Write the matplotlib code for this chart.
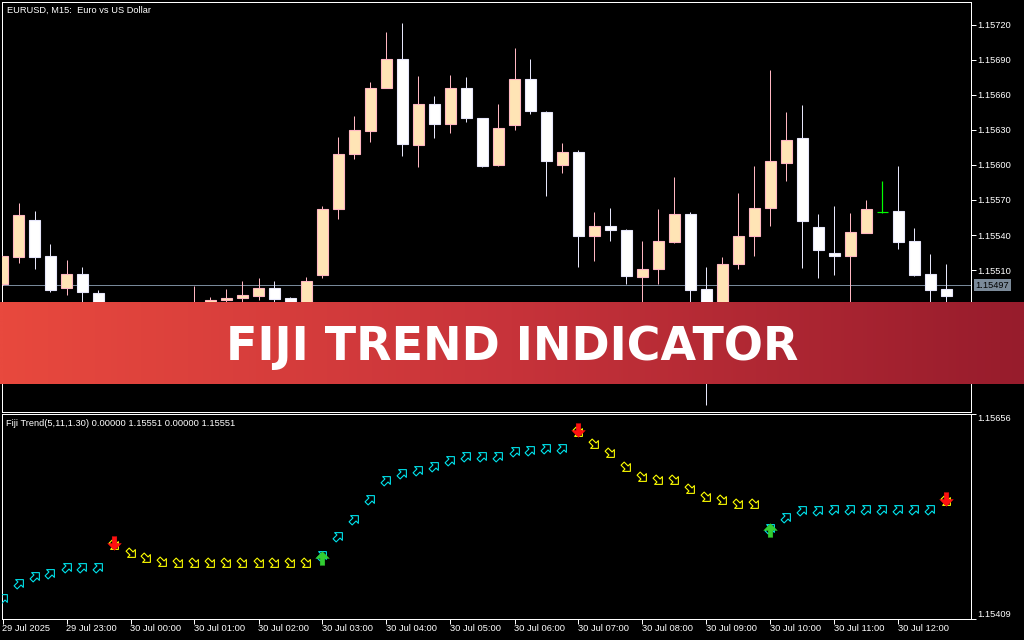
import matplotlib
matplotlib.use("Agg")
import matplotlib.pyplot as plt
import numpy as np
from matplotlib.path import Path
from matplotlib.transforms import offset_copy, blended_transform_factory
from matplotlib.colors import LinearSegmentedColormap

# ---------------- data ----------------
chart_title = "EURUSD, M15:  Euro vs US Dollar"
indicator_label = "Fiji Trend(5,11,1.30) 0.00000 1.15551 0.00000 1.15551"
banner_text = "FIJI TREND INDICATOR"

time_labels = ["29 Jul 2025", "29 Jul 23:00", "30 Jul 00:00", "30 Jul 01:00", "30 Jul 02:00",
               "30 Jul 03:00", "30 Jul 04:00", "30 Jul 05:00", "30 Jul 06:00", "30 Jul 07:00",
               "30 Jul 08:00", "30 Jul 09:00", "30 Jul 10:00", "30 Jul 11:00", "30 Jul 12:00"]
time_label_bars = [0, 4, 8, 12, 16, 20, 24, 28, 32, 36, 40, 44, 48, 52, 56]

opens = [1.15498, 1.15521, 1.15553, 1.15522, 1.15495, 1.15507, 1.15490, 1.15472, 1.15478, 1.15460,
         1.15466, 1.15470, 1.15470, 1.15476, 1.15484, 1.15486, 1.15488, 1.15495, 1.15486, 1.15478,
         1.15506, 1.15562, 1.15609, 1.15629, 1.15666, 1.15691, 1.15617, 1.15652, 1.15635, 1.15666,
         1.15640, 1.15600, 1.15634, 1.15674, 1.15645, 1.15600, 1.15611, 1.15539, 1.15548, 1.15544,
         1.15504, 1.15511, 1.15534, 1.15558, 1.15494, 1.15452, 1.15515, 1.15539, 1.15563, 1.15602,
         1.15623, 1.15547, 1.15525, 1.15522, 1.15542, 1.15560, 1.15561, 1.15535, 1.15507, 1.15494]
highs = [1.15522, 1.15567, 1.15561, 1.15532, 1.15519, 1.15513, 1.15493, 1.15481, 1.15480, 1.15474,
         1.15476, 1.15480, 1.15496, 1.15487, 1.15494, 1.15501, 1.15503, 1.15501, 1.15487, 1.15504,
         1.15565, 1.15624, 1.15642, 1.15671, 1.15714, 1.15722, 1.15676, 1.15659, 1.15677, 1.15675,
         1.15640, 1.15652, 1.15700, 1.15691, 1.15646, 1.15619, 1.15613, 1.15560, 1.15563, 1.15545,
         1.15535, 1.15562, 1.15590, 1.15560, 1.15513, 1.15521, 1.15576, 1.15599, 1.15681, 1.15645,
         1.15651, 1.15558, 1.15565, 1.15559, 1.15570, 1.15586, 1.15599, 1.15546, 1.15524, 1.15515]
lows = [1.15497, 1.15516, 1.15511, 1.15491, 1.15489, 1.15478, 1.15466, 1.15465, 1.15455, 1.15452,
        1.15458, 1.15462, 1.15465, 1.15472, 1.15478, 1.15478, 1.15484, 1.15479, 1.15476, 1.15474,
        1.15503, 1.15554, 1.15605, 1.15620, 1.15666, 1.15608, 1.15598, 1.15623, 1.15627, 1.15637,
        1.15598, 1.15599, 1.15630, 1.15644, 1.15573, 1.15593, 1.15513, 1.15518, 1.15535, 1.15498,
        1.15478, 1.15498, 1.15533, 1.15475, 1.15394, 1.15440, 1.15511, 1.15522, 1.15548, 1.15586,
        1.15512, 1.15503, 1.15506, 1.15460, 1.15542, 1.15559, 1.15528, 1.15505, 1.15480, 1.15478]
closes = [1.15522, 1.15557, 1.15521, 1.15493, 1.15507, 1.15491, 1.15472, 1.15478, 1.15460, 1.15466,
          1.15470, 1.15474, 1.15478, 1.15484, 1.15486, 1.15489, 1.15495, 1.15485, 1.15480, 1.15501,
          1.15562, 1.15609, 1.15630, 1.15666, 1.15691, 1.15618, 1.15652, 1.15635, 1.15666, 1.15640,
          1.15599, 1.15632, 1.15674, 1.15646, 1.15603, 1.15611, 1.15539, 1.15548, 1.15544, 1.15505,
          1.15511, 1.15535, 1.15558, 1.15493, 1.15450, 1.15515, 1.15539, 1.15563, 1.15603, 1.15621,
          1.15552, 1.15527, 1.15522, 1.15543, 1.15562, 1.15560, 1.15534, 1.15506, 1.15493, 1.15488]

trend_values = [1.15434, 1.15452, 1.15461, 1.15464, 1.15472, 1.15472, 1.15472, 1.15498, 1.15488, 1.15482,
                1.15478, 1.15477, 1.15477, 1.15477, 1.15477, 1.15477, 1.15477, 1.15477, 1.15477, 1.15477,
                1.15486, 1.15509, 1.15530, 1.15554, 1.15577, 1.15585, 1.15589, 1.15593, 1.15601, 1.15605,
                1.15605, 1.15605, 1.15612, 1.15613, 1.15615, 1.15615, 1.15634, 1.15620, 1.15609, 1.15592,
                1.15580, 1.15577, 1.15577, 1.15566, 1.15556, 1.15552, 1.15548, 1.15547, 1.15519, 1.15532,
                1.15540, 1.15540, 1.15541, 1.15542, 1.15542, 1.15542, 1.15542, 1.15542, 1.15542, 1.15551]
trend_up = [1, 1, 1, 1, 1, 1, 1, 0, 0, 0, 0, 0, 0, 0, 0, 0, 0, 0, 0, 0,
            1, 1, 1, 1, 1, 1, 1, 1, 1, 1, 1, 1, 1, 1, 1, 1, 0, 0, 0, 0,
            0, 0, 0, 0, 0, 0, 0, 0, 1, 1, 1, 1, 1, 1, 1, 1, 1, 1, 1, 0]
sell_signal_bars = [7, 36, 59]
buy_signal_bars = [20, 48]

bid_price = 1.15497
price_ticks = [1.15420, 1.15450, 1.15480, 1.15510, 1.15540, 1.15570, 1.15600, 1.15630, 1.15660,
               1.15690, 1.15720]
main_ylim = (1.153883, 1.157397)
ind_ylim = (1.15409, 1.15656)

# ---------------- styles ----------------
W, H = 1024, 640
PX = 72.0 / 100.0  # one pixel in points
BG = "black"
FG = "white"
BULL_FILL, BULL_EDGE = "#FFE4B5", "#FFB6C1"
BEAR_FILL, BEAR_EDGE = "#FFFFFF", "#E6E6FA"
DOJI = "#00FF00"
UP_COL, DN_COL = "#00E5EE", "#FFFF00"
axis_font = dict(family=["Liberation Sans", "DejaVu Sans"], size=6.7)

fig = plt.figure(figsize=(W / 100, H / 100), dpi=100, facecolor=BG)


def px_axes(x0, y0, x1, y1):
    return fig.add_axes([x0 / W, 1 - y1 / H, (x1 - x0) / W, (y1 - y0) / H])


ax = px_axes(2, 2, 971, 412)
axi = px_axes(2, 414, 971, 619)

xlim = (-0.5 / 16, (971 - 2.5) / 16)
for a in (ax, axi):
    a.set_facecolor(BG)
    a.set_xlim(*xlim)
    for s in a.spines.values():
        s.set_color(FG)
        s.set_linewidth(PX)

# ---------------- candles ----------------
o = np.array(opens); h = np.array(highs); l = np.array(lows); c = np.array(closes)
x = np.arange(len(o))
bull = c > o
bear = c < o
doji = c == o
bw = 0.63
ax.vlines(x[bull], l[bull], h[bull], color=BULL_EDGE, lw=PX, zorder=2)
ax.vlines(x[bear], l[bear], h[bear], color=BEAR_EDGE, lw=PX, zorder=2)
ax.bar(x[bull], (c - o)[bull], bottom=o[bull], width=bw, color=BULL_FILL, edgecolor=BULL_EDGE,
       linewidth=PX * 1.1, zorder=3)
ax.bar(x[bear], (c - o)[bear], bottom=o[bear], width=bw, color=BEAR_FILL, edgecolor=BEAR_EDGE,
       linewidth=PX * 1.1, zorder=3)
ax.vlines(x[doji], l[doji], h[doji], color=DOJI, lw=PX * 1.2, zorder=3)
ax.hlines(o[doji], x[doji] - bw / 2, x[doji] + bw / 2, color=DOJI, lw=PX * 1.2, zorder=3)

ax.axhline(bid_price, color="#778899", lw=PX, zorder=1)
ax.set_ylim(*main_ylim)
ax.set_xticks([])
ax.yaxis.tick_right()
ax.set_yticks(price_ticks)
ax.set_yticklabels([f"{p:.5f}" for p in price_ticks], color=FG, fontdict=axis_font)
ax.tick_params(axis="y", colors=FG, length=5 * PX, width=PX, pad=1.2, labelcolor=FG)

btr = blended_transform_factory(ax.transAxes, ax.transData)
ax.text(1.0 + 4.5 / 969, bid_price, f"{bid_price:.5f}", transform=btr, va="center", ha="left",
        color="black", fontdict=axis_font, clip_on=False, zorder=5,
        bbox=dict(boxstyle="square,pad=0.18", fc="#7B8A99", ec="none"))

ax.text(4.7 / 969, 1 - 8.5 / 410, chart_title, transform=ax.transAxes, color=FG, va="center",
        ha="left", fontdict=axis_font)

# ---------------- indicator ----------------
tv = np.array(trend_values)
up = np.array(trend_up, dtype=bool)


def arrow_path(angle, shaft=0.2, head=0.5):
    base = np.array([(0, 0.5), (head, 0), (shaft, 0), (shaft, -0.5), (-shaft, -0.5),
                     (-shaft, 0), (-head, 0), (0, 0.5)])
    th = np.deg2rad(angle)
    R = np.array([[np.cos(th), -np.sin(th)], [np.sin(th), np.cos(th)]])
    v = base @ R.T
    codes = [Path.MOVETO] + [Path.LINETO] * 6 + [Path.CLOSEPOLY]
    return Path(v, codes)


m_ur = arrow_path(-45)
m_dr = arrow_path(-135)
m_up = arrow_path(0, shaft=0.17)
m_dn = arrow_path(180, shaft=0.17)

axi.plot(x[up], tv[up], ls="none", marker=m_ur, ms=7.8, mfc="none", mec=UP_COL, mew=PX * 1.1,
         zorder=3)
axi.plot(x[~up], tv[~up], ls="none", marker=m_dr, ms=7.8, mfc="none", mec=DN_COL, mew=PX * 1.1,
         zorder=3)
sb = np.array(sell_signal_bars)
bb = np.array(buy_signal_bars)
axi.plot(sb, tv[sb], ls="none", marker=m_dn, ms=9.8, mfc="#FF1010", mec="#FF1010", mew=0.3,
         transform=offset_copy(axi.transData, fig=fig, x=0, y=2.5, units="dots"), zorder=4)
axi.plot(bb, tv[bb], ls="none", marker=m_up, ms=9.8, mfc="#32CD32", mec="#32CD32", mew=0.3,
         transform=offset_copy(axi.transData, fig=fig, x=0, y=-2.5, units="dots"), zorder=4)

axi.set_ylim(*ind_ylim)
axi.yaxis.tick_right()
axi.set_yticks(list(ind_ylim))
axi.set_yticklabels([f"{v:.5f}" for v in ind_ylim], color=FG, fontdict=axis_font)
ylbls = axi.get_yticklabels()
ylbls[0].set_va("bottom")
ylbls[1].set_va("top")
axi.tick_params(axis="y", colors=FG, length=5 * PX, width=PX, pad=1.2, labelcolor=FG)

axi.set_xticks(time_label_bars)
axi.set_xticklabels(time_labels, color=FG, fontdict=axis_font, ha="left")
axi.tick_params(axis="x", colors=FG, length=5 * PX, width=PX, pad=0.3, labelcolor=FG)
for t in axi.get_xticklabels():
    t.set_ha("left")

axi.text(3.7 / 969, 1 - 9.3 / 205, indicator_label, transform=axi.transAxes, color=FG,
         va="center", ha="left", fontdict=axis_font)

# ---------------- banner ----------------
axb = fig.add_axes([0, 1 - 384 / H, 1, 82 / H])
axb.set_zorder(10)
cmap = LinearSegmentedColormap.from_list("banner", ["#E8493E", "#C7333A", "#971C2C"])
axb.imshow(np.linspace(0, 1, 512).reshape(1, -1), aspect="auto", cmap=cmap,
           extent=[0, 1, 0, 1], interpolation="bilinear")
axb.set_xlim(0, 1); axb.set_ylim(0, 1)
axb.axis("off")
bt = axb.text(0.5, (384 - 359.5) / 82, banner_text, color="white", ha="center", va="baseline",
              fontsize=34, fontweight="bold", family=["DejaVu Sans"])
fig.canvas.draw()
wpx = bt.get_window_extent().width
bt.set_fontsize(34 * 574 / wpx)

fig.savefig("out.png", dpi=100, facecolor=BG)
